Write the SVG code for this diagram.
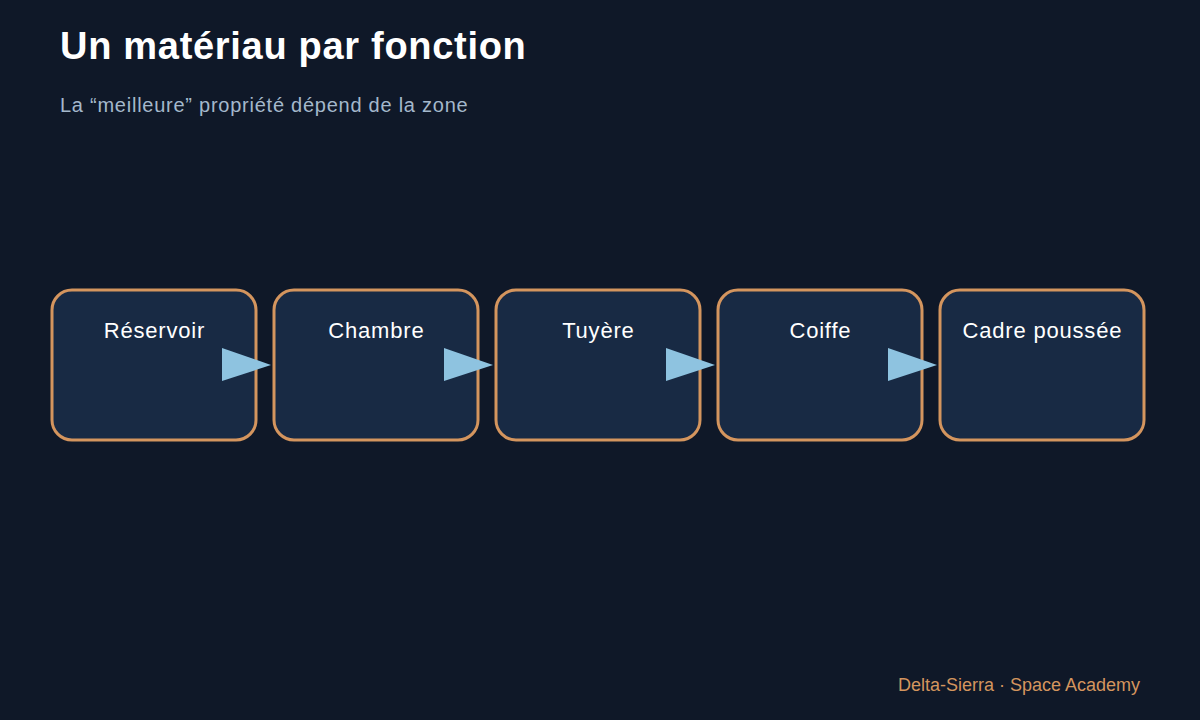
<svg xmlns="http://www.w3.org/2000/svg" width="1200" height="720" viewBox="0 0 1200 720">
<style>
.bg{fill:#0f1828}
.title{font-family:"Liberation Sans",Arial,sans-serif;font-size:38px;font-weight:bold;fill:#ffffff;letter-spacing:0.7px}
.sub{font-family:"Liberation Sans",Arial,sans-serif;font-size:20px;fill:#a4b8cc;letter-spacing:0.75px}
.box{fill:#182a44;stroke:#d4955e;stroke-width:3}
.lbl{font-family:"Liberation Sans",Arial,sans-serif;font-size:22px;fill:#ffffff;text-anchor:middle;letter-spacing:0.8px}
.arr{fill:#8ec3e0}
.foot{font-family:"Liberation Sans",Arial,sans-serif;font-size:18px;fill:#d4955e;text-anchor:end}
</style>
<rect class="bg" x="0" y="0" width="1200" height="720"/>
<text class="title" x="60" y="59">Un matériau par fonction</text>
<text class="sub" x="60" y="112">La “meilleure” propriété dépend de la zone</text>
<g id="node-reservoir"><rect class="box" x="52" y="290" width="204" height="150" rx="20"/><text class="lbl" x="154.4" y="338">Réservoir</text></g>
<g id="node-chambre"><rect class="box" x="274" y="290" width="204" height="150" rx="20"/><text class="lbl" x="376.4" y="338">Chambre</text></g>
<g id="node-tuyere"><rect class="box" x="496" y="290" width="204" height="150" rx="20"/><text class="lbl" x="598.4" y="338">Tuyère</text></g>
<g id="node-coiffe"><rect class="box" x="718" y="290" width="204" height="150" rx="20"/><text class="lbl" x="820.4" y="338">Coiffe</text></g>
<g id="node-cadre"><rect class="box" x="940" y="290" width="204" height="150" rx="20"/><text class="lbl" x="1042.4" y="338">Cadre poussée</text></g>
<g id="connectors">
<polygon class="arr" points="222,348 271,365 222,381"/>
<polygon class="arr" points="444,348 493,365 444,381"/>
<polygon class="arr" points="666,348 715,365 666,381"/>
<polygon class="arr" points="888,348 937,365 888,381"/>
</g>
<text class="foot" x="1140" y="691">Delta-Sierra · Space Academy</text>
</svg>
